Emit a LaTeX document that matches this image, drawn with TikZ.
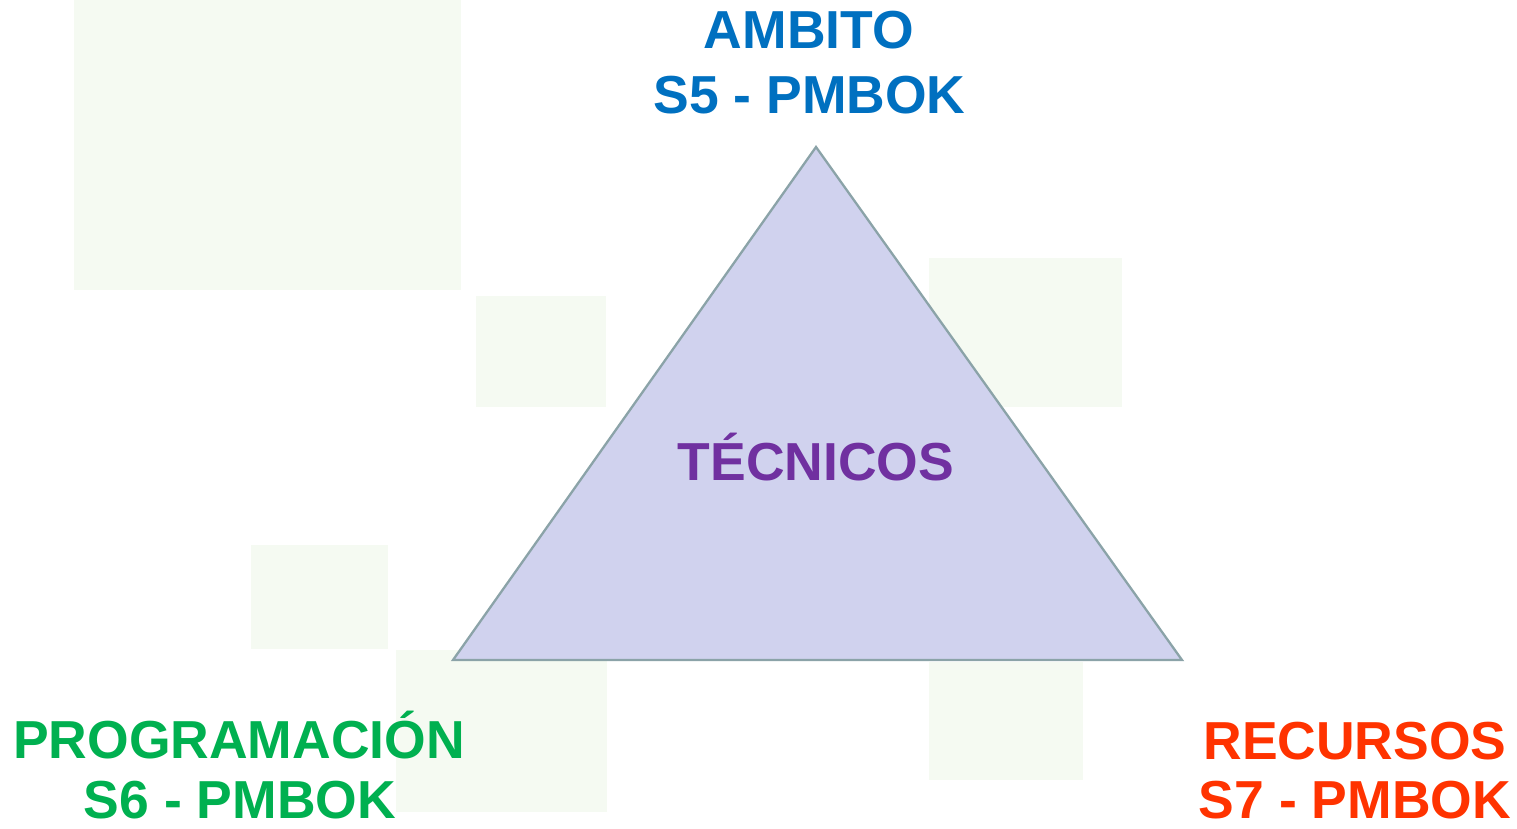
\documentclass[tikz,border=0pt]{standalone}
\usepackage{fontspec}
\setmainfont{Liberation Sans}
\definecolor{faint}{HTML}{F5FAF2}
\definecolor{trifill}{HTML}{D0D2EE}
\definecolor{tridraw}{HTML}{8BA3A8}
\definecolor{cblue}{HTML}{0070C0}
\definecolor{cgreen}{HTML}{00B050}
\definecolor{cred}{HTML}{FF3300}
\definecolor{cpurple}{HTML}{7030A0}
\tikzset{
  bgrect/.style={fill=faint, draw=none},
  lbl/.style={anchor=base, inner sep=0pt, font=\fontsize{53.5}{64}\selectfont\bfseries},
  tri/.style={fill=trifill, draw=tridraw, line width=2.3pt, line join=miter}
}
\begin{document}
\begin{tikzpicture}[x=1pt,y=-1pt]
\useasboundingbox (0,0) rectangle (1517,828);
% faint background patches
\fill[bgrect] (74,0) rectangle (461,290);
\fill[bgrect] (476,296) rectangle (606,407);
\fill[bgrect] (929,258) rectangle (1122,407);
\fill[bgrect] (251,545) rectangle (388,649);
\fill[bgrect] (396,650) rectangle (607,812);
\fill[bgrect] (929,662) rectangle (1083,780);
% triangle
\coordinate (top) at (816,147);
\coordinate (left) at (453,660);
\coordinate (right) at (1182,660);
\draw[tri] (top) -- (right) -- (left) -- cycle;
% labels
\node[lbl, text=cpurple] (tec) at (816,480) {TÉCNICOS};
\node[lbl, text=cblue] (amb1) at (809,48) {AMBITO};
\node[lbl, text=cblue] (amb2) at (809.5,113) {S5 - PMBOK};
\node[lbl, text=cgreen] (prog1) at (239,758) {PROGRAMACIÓN};
\node[lbl, text=cgreen] (prog2) at (240,818) {S6 - PMBOK};
\node[lbl, text=cred] (rec1) at (1355,759) {RECURSOS};
\node[lbl, text=cred] (rec2) at (1355,818) {S7 - PMBOK};
\end{tikzpicture}
\end{document}
